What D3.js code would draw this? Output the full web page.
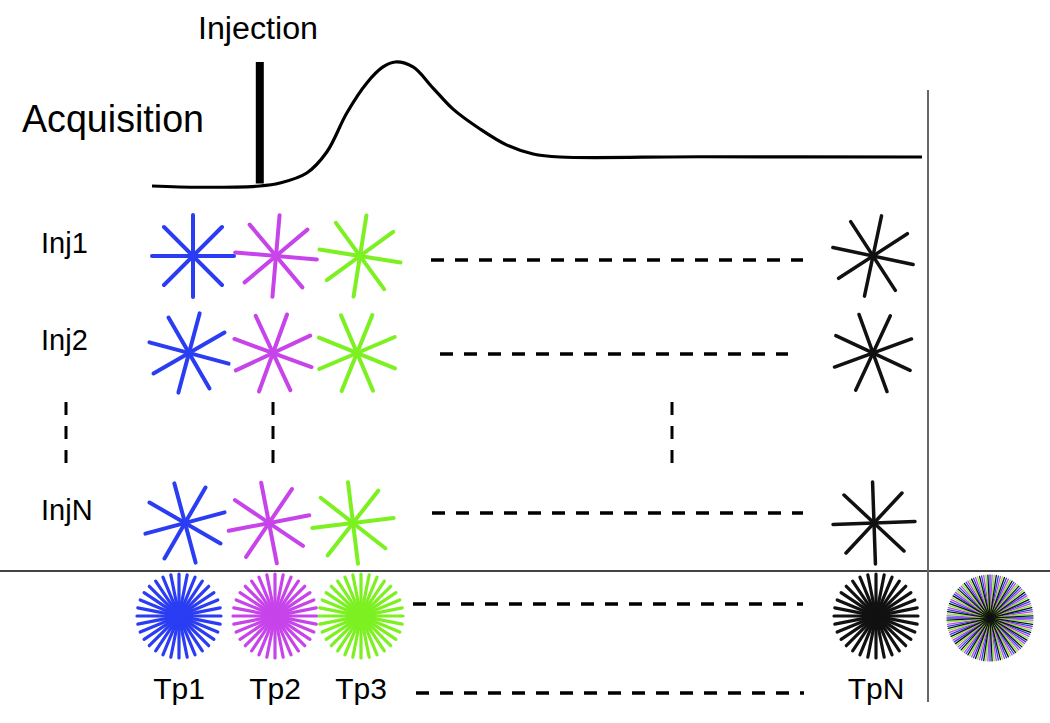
<!DOCTYPE html>
<html>
<head>
<meta charset="utf-8">
<script src="https://cdn.jsdelivr.net/npm/d3@7"></script>
<style>
  body { margin: 0; background: #fff; }
  text { font-family: "Liberation Sans", Arial, sans-serif; fill: #000; }
</style>
</head>
<body>
<svg id="chart" width="1050" height="723"></svg>
<script>
// acquisition curve (time 0..100, signal 0..1)
var curveT = [0, 6.2, 14, 16.6, 20.1, 22.7, 25.3, 27.9, 30, 31.6, 33.9, 36.5, 39.1, 42.6, 46.1, 49.5, 53, 71.2, 100];
var curveS = [0, -0.01, 0, 0.024, 0.105, 0.274, 0.589, 0.831, 0.96, 1, 0.96, 0.79, 0.62, 0.46, 0.33, 0.258, 0.234, 0.236, 0.234];
var injectionT = 14;

// injections (rows) and time points (columns)
var rowLabels = ["Inj1", "Inj2", "InjN"];
var rowY = [256, 353, 523];
var starX = [[193, 276, 360, 873], [189, 273, 357, 873], [185, 269, 353, 874]];
var starRot = [[0, 5, 9, 12], [15, 20, 22, 25], [-15, -11, -7, -2]];
var tpLabels = ["Tp1", "Tp2", "Tp3", "TpN"];
var tpX = [179, 275, 361, 876];
var tpColors = ["#2b3df2", "#c744ea", "#7df021", "#111111"];

// dashed "..." lines: [x1, x2, y]
var hDashes = [[431, 803, 260], [440, 788, 354], [432, 803, 513], [413, 803, 604], [416, 804, 693]];
var vDashes = [66, 273, 672];

var svg = d3.select("#chart");

var x = d3.scaleLinear().domain([0, 100]).range([152, 922]);
var y = d3.scaleLinear().domain([0, 1]).range([186, 62]);

// titles
svg.append("text").attr("x", 258).attr("y", 39).attr("text-anchor", "middle")
  .attr("font-size", 31).attr("textLength", 120).attr("lengthAdjust", "spacingAndGlyphs")
  .text("Injection");
svg.append("text").attr("x", 22).attr("y", 132)
  .attr("font-size", 39).attr("textLength", 182).attr("lengthAdjust", "spacingAndGlyphs")
  .text("Acquisition");

// curve
var line = d3.line()
  .x(function(d, i) { return x(curveT[i]); })
  .y(function(d, i) { return y(curveS[i]); })
  .curve(d3.curveCatmullRom.alpha(0.5));
svg.append("path").datum(curveT)
  .attr("d", line)
  .attr("fill", "none").attr("stroke", "#000").attr("stroke-width", 3.2);

// injection bar
svg.append("line")
  .attr("x1", x(injectionT)).attr("x2", x(injectionT))
  .attr("y1", y(1)).attr("y2", y(0.02))
  .attr("stroke", "#000").attr("stroke-width", 8);

// separators
svg.append("line").attr("x1", 0).attr("x2", 1050).attr("y1", 571).attr("y2", 571)
  .attr("stroke", "#444").attr("stroke-width", 2);
svg.append("line").attr("x1", 928).attr("x2", 928).attr("y1", 90).attr("y2", 702)
  .attr("stroke", "#666").attr("stroke-width", 2);

function star(g, cx, cy, r, n, rot, color, width) {
  var ang = d3.range(n).map(function(k) { return (rot + k * 180 / n) * Math.PI / 180; });
  g.selectAll(null).data(ang).enter().append("line")
    .attr("x1", function(a) { return cx - r * Math.cos(a); })
    .attr("y1", function(a) { return cy - r * Math.sin(a); })
    .attr("x2", function(a) { return cx + r * Math.cos(a); })
    .attr("y2", function(a) { return cy + r * Math.sin(a); })
    .attr("stroke", color).attr("stroke-width", width).attr("stroke-linecap", "round");
}

// row labels + stars
var rows = svg.append("g");
rowLabels.forEach(function(lab, i) {
  rows.append("text").attr("x", 41).attr("y", rowY[i] - 13)
    .attr("font-size", 29).attr("dy", "0.35em").text(lab);
  starX[i].forEach(function(sx, j) {
    star(rows, sx, rowY[i], 41, 4, starRot[i][j], tpColors[j], j == 3 ? 3.5 : 4);
  });
});

// time-point stars + labels
var bottom = svg.append("g");
tpLabels.forEach(function(lab, j) {
  star(bottom, tpX[j], 616, 42, 16, 0, tpColors[j], 3.2);
  bottom.append("text").attr("x", tpX[j]).attr("y", 699).attr("text-anchor", "middle")
    .attr("font-size", 30).text(lab);
});

// combined star
var comb = svg.append("g");
tpColors.forEach(function(c, j) {
  star(comb, 990, 618, 43, 16, j * 180 / 64, c, 1.3);
});

// dashes
svg.selectAll(".hd").data(hDashes).enter().append("line")
  .attr("x1", function(d) { return d[0]; }).attr("x2", function(d) { return d[1]; })
  .attr("y1", function(d) { return d[2]; }).attr("y2", function(d) { return d[2]; })
  .attr("stroke", "#000").attr("stroke-width", 3.5).attr("stroke-dasharray", "13,11");
svg.selectAll(".vd").data(vDashes).enter().append("line")
  .attr("x1", function(d) { return d; }).attr("x2", function(d) { return d; })
  .attr("y1", 402).attr("y2", 463)
  .attr("stroke", "#000").attr("stroke-width", 3).attr("stroke-dasharray", "13,11");
</script>
</body>
</html>
